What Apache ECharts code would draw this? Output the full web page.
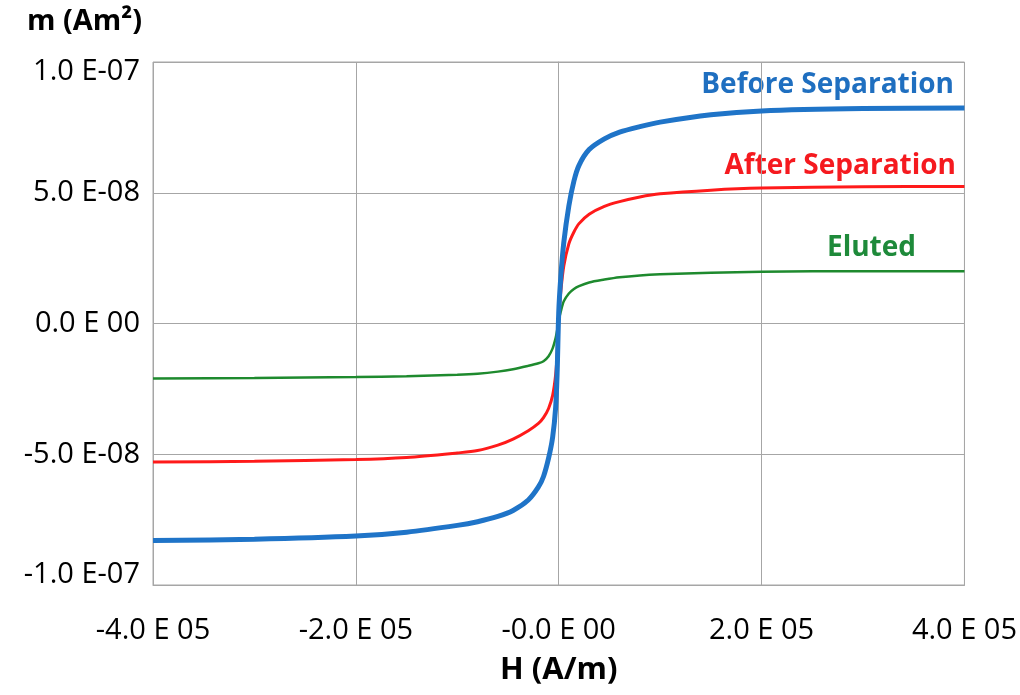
<!DOCTYPE html>
<html>
<head>
<meta charset="utf-8">
<script src="https://cdn.jsdelivr.net/npm/echarts@6/dist/echarts.min.js"></script>
<style>
  html, body { margin: 0; padding: 0; background: #fff; }
  #main { width: 1020px; height: 695px; }
</style>
</head>
<body>
<div id="main"></div>
<script>
// field H in A/m, moment m in units of 1e-8 Am2
var fieldH = [-400000, -300000, -200000, -150000, -100000, -80000, -60000, -45000, -30000, -20000, -15000, -10000, -6000, -3000, -1500,
    0, 2000, 5000, 10000, 15000, 20000, 30000, 45000, 60000, 80000, 100000, 150000, 200000, 300000, 400000];
var beforeSep = [-8.3, -8.25, -8.13, -7.98, -7.72, -7.58, -7.38, -7.15, -6.75, -6.25, -5.85, -5.15, -4.35, -3.2, -1.8,
    0.4, 1.75, 3.1, 4.5, 5.45, 6.05, 6.65, 7.06, 7.32, 7.53, 7.7, 7.98, 8.13, 8.22, 8.24];
var afterSep = [-5.3, -5.27, -5.2, -5.12, -4.95, -4.86, -4.65, -4.42, -4.1, -3.82, -3.6, -3.25, -2.75, -1.95, -1.1,
    0.2, 1.2, 2.2, 3.05, 3.5, 3.82, 4.18, 4.48, 4.66, 4.84, 4.96, 5.1, 5.18, 5.23, 5.24];
var eluted = [-2.1, -2.08, -2.05, -2.02, -1.96, -1.92, -1.84, -1.75, -1.62, -1.52, -1.44, -1.25, -0.95, -0.55, -0.25,
    0.1, 0.45, 0.85, 1.15, 1.32, 1.43, 1.57, 1.68, 1.77, 1.84, 1.88, 1.94, 1.98, 2.0, 2.0];

var xTicks = [-400000, -200000, 0, 200000, 400000];
var xTickLabels = ['-4.0 E 05', '-2.0 E 05', '-0.0 E 00', '2.0 E 05', '4.0 E 05'];
var yTicks = [-10, -5, 0, 5, 10];
var yTickLabels = ['-1.0 E-07', '-5.0 E-08', '0.0 E 00', '5.0 E-08', '1.0 E-07'];

function pairs(ys) {
    return fieldH.map(function (h, i) { return [h, ys[i]]; });
}
function tickLabel(ticks, labels) {
    return function (v) {
        var i = ticks.indexOf(Math.round(v));
        return i >= 0 ? labels[i] : '';
    };
}

var font = '"Open Sans", "Liberation Sans", sans-serif';
var gridColor = '#a6a6a6';

var myChart = echarts.init(document.getElementById('main'));
var option = {
    backgroundColor: '#fff',
    animation: false,
    grid: {
        left: 153,
        right: 54,
        top: 62,
        bottom: 110,
        show: true,
        borderColor: gridColor,
        borderWidth: 1
    },
    xAxis: {
        type: 'value',
        min: -400000,
        max: 400000,
        interval: 200000,
        name: 'H (A/m)',
        nameLocation: 'middle',
        nameGap: 70,
        nameTextStyle: { color: '#000', fontSize: 31, fontWeight: 'bold', fontFamily: font },
        axisLine: { onZero: false, lineStyle: { color: gridColor } },
        axisTick: { show: false },
        splitLine: { show: true, lineStyle: { color: gridColor, width: 1 } },
        axisLabel: {
            color: '#000',
            fontSize: 29,
            fontFamily: font,
            margin: 31,
            formatter: tickLabel(xTicks, xTickLabels)
        }
    },
    yAxis: {
        type: 'value',
        min: -10,
        max: 10,
        interval: 5,
        axisLine: { show: true, lineStyle: { color: gridColor } },
        axisTick: { show: false },
        splitLine: { show: true, lineStyle: { color: gridColor, width: 1 } },
        axisLabel: {
            color: '#000',
            fontSize: 29,
            lineHeight: 20,
            fontFamily: font,
            margin: 13,
            verticalAlignMaxLabel: 'top',
            verticalAlignMinLabel: 'bottom',
            formatter: tickLabel(yTicks, yTickLabels)
        }
    },
    graphic: [
        { type: 'text', left: 27, top: 7, style: { text: 'm (Am²)', fill: '#000', fontSize: 29, fontWeight: 'bold', fontFamily: font } },
        { type: 'text', right: 66, top: 71, style: { text: 'Before Separation', fill: '#1f6fc0', fontSize: 28, fontWeight: 'bold', fontFamily: font } },
        { type: 'text', right: 64, top: 152, style: { text: 'After Separation', fill: '#f51a1f', fontSize: 28, fontWeight: 'bold', fontFamily: font } },
        { type: 'text', right: 104, top: 234, style: { text: 'Eluted', fill: '#1e8a3a', fontSize: 28, fontWeight: 'bold', fontFamily: font } }
    ],
    series: [
        {
            name: 'Eluted',
            type: 'line',
            data: pairs(eluted),
            smooth: 0.3,
            showSymbol: false,
            lineStyle: { color: '#1e8a2e', width: 2.5 },
            z: 2
        },
        {
            name: 'After Separation',
            type: 'line',
            data: pairs(afterSep),
            smooth: 0.3,
            showSymbol: false,
            lineStyle: { color: '#ff1a1a', width: 3 },
            z: 3
        },
        {
            name: 'Before Separation',
            type: 'line',
            data: pairs(beforeSep),
            smooth: 0.3,
            showSymbol: false,
            lineStyle: { color: '#1f74c8', width: 5 },
            z: 4
        }
    ]
};
myChart.setOption(option);
</script>
</body>
</html>
